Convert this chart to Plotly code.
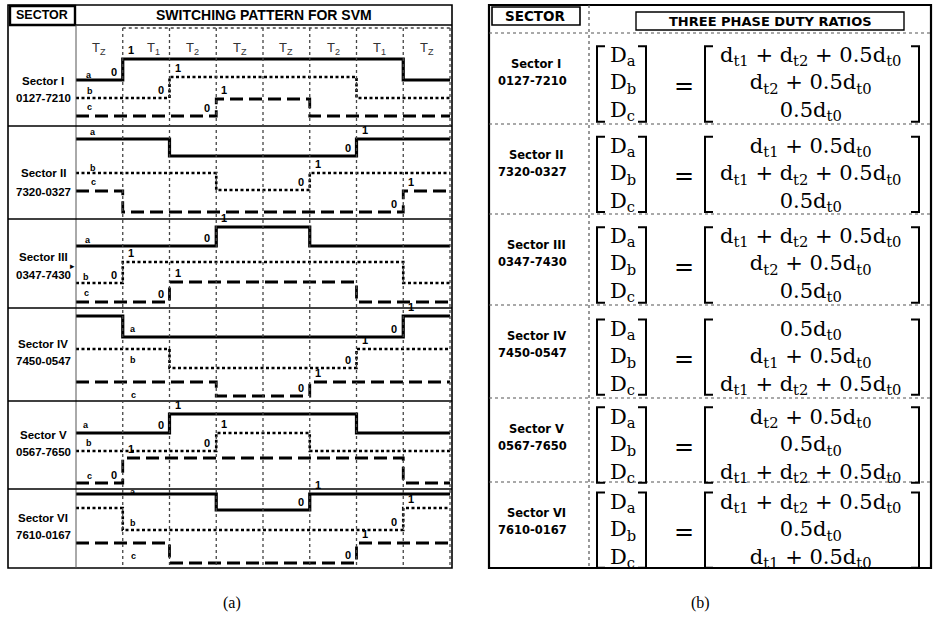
import plotly.graph_objects as go

W, H = 934, 628

# ---------------- data ----------------
slot_labels = ["T<sub>Z</sub>", "T<sub>1</sub>", "T<sub>2</sub>", "T<sub>Z</sub>",
               "T<sub>Z</sub>", "T<sub>2</sub>", "T<sub>1</sub>", "T<sub>Z</sub>"]
sector_names = ["Sector I", "Sector II", "Sector III", "Sector IV", "Sector V", "Sector VI"]
sector_codes = ["0127-7210", "7320-0327", "0347-7430", "7450-0547", "0567-7650", "7610-0167"]

phase_a = [[0, 1, 1, 1, 1, 1, 1, 0], [1, 1, 0, 0, 0, 0, 1, 1], [0, 0, 0, 1, 1, 0, 0, 0],
           [1, 0, 0, 0, 0, 0, 0, 1], [0, 0, 1, 1, 1, 1, 0, 0], [1, 1, 1, 0, 0, 1, 1, 1]]
phase_b = [[0, 0, 1, 1, 1, 1, 0, 0], [1, 1, 1, 0, 0, 1, 1, 1], [0, 1, 1, 1, 1, 1, 1, 0],
           [1, 1, 0, 0, 0, 0, 1, 1], [0, 0, 0, 1, 1, 0, 0, 0], [1, 0, 0, 0, 0, 0, 0, 1]]
phase_c = [[0, 0, 0, 1, 1, 0, 0, 0], [1, 0, 0, 0, 0, 0, 0, 1], [0, 0, 1, 1, 1, 1, 0, 0],
           [1, 1, 1, 0, 0, 1, 1, 1], [0, 1, 1, 1, 1, 1, 1, 0], [1, 1, 0, 0, 0, 0, 1, 1]]

duty_a = ["d_t1 + d_t2 + 0.5d_t0", "d_t1 + 0.5d_t0", "d_t1 + d_t2 + 0.5d_t0",
          "0.5d_t0", "d_t2 + 0.5d_t0", "d_t1 + d_t2 + 0.5d_t0"]
duty_b = ["d_t2 + 0.5d_t0", "d_t1 + d_t2 + 0.5d_t0", "d_t2 + 0.5d_t0",
          "d_t1 + 0.5d_t0", "0.5d_t0", "0.5d_t0"]
duty_c = ["0.5d_t0", "0.5d_t0", "0.5d_t0",
          "d_t1 + d_t2 + 0.5d_t0", "d_t1 + d_t2 + 0.5d_t0", "d_t1 + 0.5d_t0"]

# ---------------- layout constants (pixel positions) ----------------
A_X0, A_X1 = 8, 452          # panel (a) frame
WAVE_X0, WAVE_X1 = 76, 450   # waveform area
A_TOP, A_HDR, A_BOT = 5, 25, 568
a_row_lines = [126, 219, 308, 401, 489]
# (high, low) pixel levels per sector for phases a, b, c
levels = [
    [(59, 80), (77, 98), (99, 116)],
    [(139, 156), (173, 190), (191, 212)],
    [(227, 246), (262, 283), (282, 302)],
    [(316, 337), (349, 368), (382, 396)],
    [(414, 433), (433, 451), (458, 483)],
    [(494, 510), (508, 530), (543, 563)],
]
phase_letter_pos = [
    [(89, 75), (90, 91), (89, 107)],
    [(93, 132), (93, 168), (93, 182)],
    [(88, 240), (86, 277), (86, 293)],
    [(133, 329), (133, 360), (133, 395)],
    [(86, 425), (89, 443), (89, 476)],
    [(133, 492), (133, 523), (133, 556)],
]
a_label_y = [(81, 98), (173, 192), (257, 275), (344, 361), (435, 452), (518, 535)]

B_X0, B_X1 = 489, 931
B_TOP, B_HDR, B_BOT = 5, 33, 568
B_DIV = 589
b_row_tops = [33, 124, 214, 305, 398, 482]
b_row_bots = [124, 214, 305, 398, 482, 568]

fig = go.Figure()

# ---------------- waveforms ----------------
line_styles = [dict(color="black", width=3.2, dash="solid"),
               dict(color="black", width=2.6, dash="3px,2.5px"),
               dict(color="black", width=2.8, dash="13px,6px")]
annotations = []
sans_b = "Liberation Sans, Arial, sans-serif"

for s in range(6):
    for p, states in enumerate([phase_a[s], phase_b[s], phase_c[s]]):
        hi, lo = levels[s][p]
        ys = [lo - v * (lo - hi) for v in states]
        fig.add_trace(go.Scatter(
            x=list(range(len(states) + 1)), y=ys + [ys[-1]],
            mode="lines", line=dict(shape="hv", **line_styles[p]),
            xaxis="x2", yaxis="y", hoverinfo="skip", showlegend=False))
        # 0 / 1 labels at rising edges
        for k in range(1, len(states)):
            if states[k - 1] == 0 and states[k] == 1:
                annotations.append(dict(x=k, y=lo - 8, xref="x2", yref="y", text="<b>0</b>",
                                        xshift=-9, showarrow=False,
                                        font=dict(family=sans_b, size=11, color="black")))
                annotations.append(dict(x=k, y=hi - 9, xref="x2", yref="y", text="<b>1</b>",
                                        xshift=8, showarrow=False,
                                        font=dict(family=sans_b, size=11, color="black")))
        lx, ly = phase_letter_pos[s][p]
        annotations.append(dict(x=lx, y=ly, xref="x", yref="y", text="<b>" + "abc"[p] + "</b>",
                                showarrow=False, font=dict(family=sans_b, size=9, color="black")))
    annotations.append(dict(x=43, y=a_label_y[s][0], xref="x", yref="y", text="<b>" + sector_names[s] + "</b>",
                            showarrow=False, font=dict(family=sans_b, size=11.5, color="black")))
    annotations.append(dict(x=43, y=a_label_y[s][1], xref="x", yref="y", text="<b>" + sector_codes[s] + "</b>",
                            showarrow=False, font=dict(family=sans_b, size=11.5, color="black")))

# slot labels
for k, lab in enumerate(slot_labels):
    annotations.append(dict(x=k + 0.5, y=48, xref="x2", yref="y", text=lab, showarrow=False,
                            xshift=7 if k == 1 else 0,
                            font=dict(family="Liberation Sans, Arial", size=13, color="#333")))
annotations.append(dict(x=42, y=15, xref="x", yref="y", text="<b>SECTOR</b>", showarrow=False,
                        font=dict(family=sans_b, size=12.5, color="black")))
annotations.append(dict(x=264, y=15, xref="x", yref="y", text="<b>SWITCHING PATTERN FOR SVM</b>",
                        showarrow=False, font=dict(family=sans_b, size=14, color="black")))
annotations.append(dict(x=72, y=266, xref="x", yref="y", text="\u25B8", showarrow=False,
                        font=dict(family="DejaVu Sans", size=9, color="black")))

shapes = []
def line(x0, y0, x1, y1, w=1.5, color="black", dash="solid"):
    shapes.append(dict(type="line", xref="x", yref="y", x0=x0, y0=y0, x1=x1, y1=y1,
                       line=dict(color=color, width=w, dash=dash)))
def rect(x0, y0, x1, y1, w=1.5, color="black"):
    shapes.append(dict(type="rect", xref="x", yref="y", x0=x0, y0=y0, x1=x1, y1=y1,
                       line=dict(color=color, width=w)))

# panel (a) frame
rect(A_X0, A_TOP, A_X1, A_BOT, 1.6)
rect(10, 6, 75, A_HDR, 2.4)
line(75, A_HDR, A_X1, A_HDR, 1.6)
line(WAVE_X0, A_HDR, WAVE_X0, A_BOT, 1.0, "#555")
for y in a_row_lines:
    line(A_X0, y, A_X1, y, 1.6)
slot_w = (WAVE_X1 - WAVE_X0) / 8
for k in range(1, 9):
    x = WAVE_X0 + k * slot_w
    line(x, 28, x, A_BOT, 1.3, "#444", "dot")
line(WAVE_X0 + slot_w, 28, WAVE_X1, 28, 1.3, "#444", "dot")

# panel (b) frame
rect(B_X0, B_TOP, B_X1, B_BOT, 2.2)
rect(492, 7, 580, 25, 1.6)
rect(636, 12, 904, 30, 1.4)
line(B_DIV, B_TOP, B_DIV, B_BOT, 1.2, "#555", "dot")
for y in [B_HDR] + b_row_tops[1:]:
    line(B_X0, y, B_X1, y, 1.2, "#555", "dot")

annotations.append(dict(x=535, y=16, xref="x", yref="y", text="<b>SECTOR</b>", showarrow=False,
                        font=dict(family="DejaVu Sans", size=13.5, color="black")))
annotations.append(dict(x=770, y=21, xref="x", yref="y", text="<b>THREE PHASE DUTY RATIOS</b>",
                        showarrow=False, font=dict(family="DejaVu Sans", size=13, color="black")))

serif = "DejaVu Serif, Liberation Serif, serif"
def fmt(t):
    out = t
    for sub in ["t1", "t2", "t0"]:
        out = out.replace("d_" + sub, "d<sub>" + sub + "</sub>")
    return out

def bracket(xv, xs, yt, yb, w=2.0):
    shapes.append(dict(type="path", xref="x", yref="y",
                       path=f"M {xs},{yt} L {xv},{yt} L {xv},{yb} L {xs},{yb}",
                       line=dict(color="black", width=w)))

MAT_FONT = 21
MAT_STEP = 1.3 * MAT_FONT
for s in range(6):
    top, bot = b_row_tops[s], b_row_bots[s]
    h = bot - top
    annotations.append(dict(x=536, y=top + 31, xref="x", yref="y", text="<b>" + sector_names[s] + "</b>",
                            showarrow=False, font=dict(family="DejaVu Sans", size=11.5, color="black")))
    annotations.append(dict(x=532, y=top + 48, xref="x", yref="y", text="<b>" + sector_codes[s] + "</b>",
                            showarrow=False, font=dict(family="DejaVu Sans", size=11.5, color="black")))
    c = top + 0.56 * h
    annotations.append(dict(x=608, y=c, xref="x", yref="y",
                            text="<br>".join("D<sub>" + dl + "</sub>" for dl in "abc"),
                            xanchor="left", align="left", showarrow=False,
                            font=dict(family=serif, size=MAT_FONT, color="black")))
    annotations.append(dict(x=810, y=c, xref="x", yref="y",
                            text="<br>".join(fmt(t) for t in [duty_a[s], duty_b[s], duty_c[s]]),
                            align="center", showarrow=False,
                            font=dict(family=serif, size=MAT_FONT, color="black")))
    annotations.append(dict(x=684, y=c + 2, xref="x", yref="y", text="=", showarrow=False,
                            font=dict(family=serif, size=24, color="black")))
    hh = MAT_STEP * 1.38
    bracket(597, 605, c - hh, c + hh)
    bracket(646, 638, c - hh, c + hh)
    bracket(705, 713, c - hh, c + hh)
    bracket(919, 911, c - hh, c + hh)

annotations.append(dict(x=232, y=603, xref="x", yref="y", text="(a)", showarrow=False,
                        font=dict(family="Liberation Serif, Times New Roman", size=16, color="black")))
annotations.append(dict(x=700, y=603, xref="x", yref="y", text="(b)", showarrow=False,
                        font=dict(family="Liberation Serif, Times New Roman", size=16, color="black")))

fig.update_layout(
    width=W, height=H, autosize=False,
    margin=dict(l=0, r=0, t=0, b=0),
    paper_bgcolor="white", plot_bgcolor="white",
    xaxis=dict(domain=[0, 1], range=[0, W], visible=False, fixedrange=True),
    xaxis2=dict(domain=[WAVE_X0 / W, WAVE_X1 / W], range=[0, 8], visible=False,
                anchor="y", fixedrange=True),
    yaxis=dict(domain=[0, 1], range=[H, 0], visible=False, fixedrange=True),
    shapes=shapes, annotations=annotations, showlegend=False,
)
fig.write_html("out.html", config={"displayModeBar": False},
               post_script="document.body.style.margin='0px';document.body.style.overflow='hidden';")
